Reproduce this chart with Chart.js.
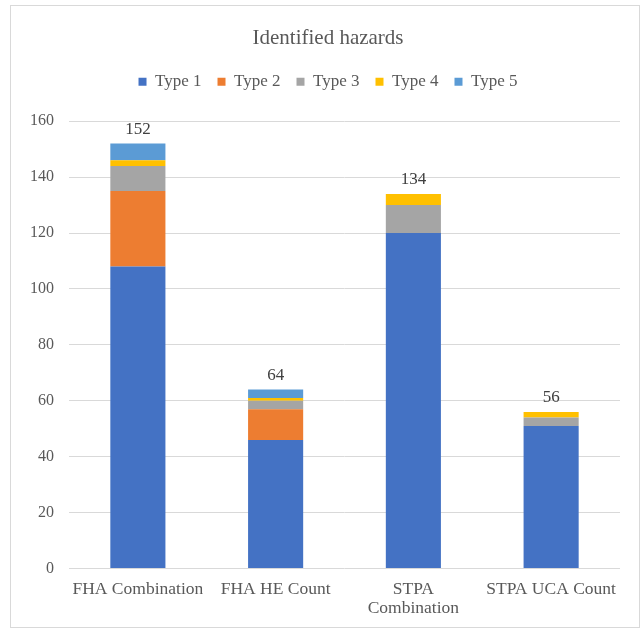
<!DOCTYPE html>
<html>
<head>
<meta charset="utf-8">
<script src="https://cdn.jsdelivr.net/npm/chart.js@4"></script>
<style>
  html, body { margin: 0; padding: 0; background: #fff; }
  #wrap { position: relative; width: 641px; height: 629px; }
</style>
</head>
<body>
<div id="wrap"><canvas id="hazards"></canvas></div>
<script>
// data
const categories = ['FHA Combination', 'FHA HE Count', ['STPA', 'Combination'], 'STPA UCA Count'];
const type1 = [108, 46, 120, 51];
const type2 = [27, 11, 0, 0];
const type3 = [9, 3, 10, 3];
const type4 = [2, 1, 4, 2];
const type5 = [6, 3, 0, 0];
const yTicks = [0, 20, 40, 60, 80, 100, 120, 140, 160];

const seriesNames = ['Type 1', 'Type 2', 'Type 3', 'Type 4', 'Type 5'];
const seriesData = [type1, type2, type3, type4, type5];
const seriesColors = ['#4472C4', '#ED7D31', '#A5A5A5', '#FFC000', '#5B9BD5'];

const totals = categories.map((c, i) => seriesData.reduce((s, d) => s + d[i], 0));

const FONT = '"Liberation Serif", "Times New Roman", serif';
const TEXT = '#595959';

// outer frame of the chart
const framePlugin = {
  id: 'frame',
  beforeDraw(chart) {
    const c = chart.ctx;
    c.save();
    c.strokeStyle = '#D9D9D9';
    c.lineWidth = 1;
    c.strokeRect(10.5, 5.5, 629, 622);
    c.restore();
  }
};

// extra room under the legend
const legendGap = {
  id: 'legendGap',
  beforeInit(chart) {
    const fit = chart.legend.fit;
    chart.legend.fit = function () {
      fit.bind(chart.legend)();
      this.height += 21;
    };
  }
};

// totals above the stacks
const totalLabels = {
  id: 'totalLabels',
  afterDatasetsDraw(chart) {
    const { ctx, scales: { x, y } } = chart;
    ctx.save();
    ctx.font = '17px ' + FONT;
    ctx.fillStyle = '#404040';
    ctx.textAlign = 'center';
    ctx.textBaseline = 'middle';
    totals.forEach((t, i) => {
      ctx.fillText(String(t), x.getPixelForValue(i), y.getPixelForValue(t) - 14);
    });
    ctx.restore();
  }
};

new Chart(document.getElementById('hazards'), {
  type: 'bar',
  data: {
    labels: categories,
    datasets: seriesNames.map((name, k) => ({
      label: name,
      data: seriesData[k],
      backgroundColor: seriesColors[k],
      borderWidth: 0,
      categoryPercentage: 1,
      barPercentage: 0.4,
    })),
  },
  options: {
    responsive: true,
    maintainAspectRatio: false,
    animation: false,
    layout: {
      padding: { left: 23, right: 8, top: 0, bottom: 0 },
    },
    scales: {
      x: {
        stacked: true,
        grid: { display: false, drawTicks: false },
        border: { display: false },
        ticks: {
          color: TEXT,
          font: { family: FONT, size: 17.5, lineHeight: 1.1 },
          padding: 11,
          maxRotation: 0,
          autoSkip: false,
        },
      },
      y: {
        stacked: true,
        min: 0,
        max: 160,
        afterBuildTicks: (scale) => { scale.ticks = yTicks.map(v => ({ value: v })); },
        afterFit: (scale) => { scale.width = 46; },
        grid: { color: '#D9D9D9', lineWidth: 1, drawTicks: false },
        border: { display: false },
        ticks: {
          color: TEXT,
          font: { family: FONT, size: 16 },
          padding: 15,
        },
      },
      yRight: {
        position: 'right',
        display: true,
        afterFit: (scale) => { scale.width = 13; },
        grid: { display: false, drawTicks: false },
        border: { display: false },
        ticks: { display: false },
      },
    },
    plugins: {
      title: {
        display: true,
        text: 'Identified hazards',
        color: TEXT,
        font: { family: FONT, size: 21, weight: 'normal' },
        padding: { top: 26, bottom: 6 },
      },
      legend: {
        position: 'top',
        labels: {
          color: TEXT,
          font: { family: FONT, size: 17 },
          boxWidth: 8,
          boxHeight: 8,
          padding: 16,
        },
      },
      tooltip: { enabled: false },
    },
  },
  plugins: [framePlugin, legendGap, totalLabels],
});
</script>
</body>
</html>
